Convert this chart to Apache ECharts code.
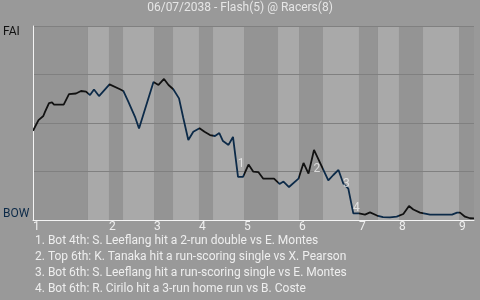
<!DOCTYPE html>
<html>
<head>
<meta charset="utf-8">
<script src="https://cdn.jsdelivr.net/npm/echarts@6/dist/echarts.min.js"></script>
<style>html,body{margin:0;padding:0;background:#999999;}#c{width:480px;height:300px;}</style>
</head>
<body>
<div id="c"></div>
<script>
// Game progress (0-100) and FAI win probability
const playX = [0, 1.25, 2.34, 2.72, 3.63, 4.31, 4.76, 6.96, 8.16, 9.75, 10.88, 12.02, 12.93, 13.83, 14.97, 17.35, 19.73, 20.48, 21.61, 23.13, 24.04, 27.32, 28.46, 29.71, 30.73, 31.81, 33.11, 34.08, 35.22, 36.35, 37.76, 38.89, 40.14, 41.27, 42.25, 43.08, 44.33, 45.35, 46.49, 47.62, 48.87, 49.96, 51.09, 52.22, 54.65, 55.90, 56.80, 58.05, 60.20, 61.34, 62.47, 63.72, 66.96, 68.10, 69.27, 70.36, 71.50, 72.63, 73.92, 75.28, 76.42, 78.0, 79.37, 80.95, 82.47, 83.97, 85.26, 86.24, 87.76, 90.02, 95.01, 96.15, 96.83, 97.96, 99.09, 100];
const faiWinProb = [0.46, 0.515, 0.536, 0.557, 0.603, 0.606, 0.595, 0.595, 0.649, 0.652, 0.665, 0.662, 0.644, 0.673, 0.639, 0.699, 0.674, 0.665, 0.610, 0.532, 0.472, 0.711, 0.696, 0.727, 0.696, 0.674, 0.627, 0.526, 0.412, 0.455, 0.473, 0.455, 0.438, 0.433, 0.448, 0.407, 0.387, 0.428, 0.222, 0.222, 0.286, 0.249, 0.247, 0.213, 0.213, 0.186, 0.198, 0.170, 0.213, 0.294, 0.239, 0.361, 0.204, 0.232, 0.258, 0.188, 0.162, 0.034, 0.034, 0.028, 0.039, 0.023, 0.015, 0.014, 0.017, 0.031, 0.072, 0.054, 0.038, 0.028, 0.028, 0.038, 0.038, 0.017, 0.009, 0.008];
// Half-inning boundaries (top, bottom, top, ...)
const halfInningBounds = [0, 12.47, 17.23, 20.41, 27.44, 31.75, 37.64, 40.82, 47.85, 55.56, 60.32, 65.76, 73.92, 78.23, 82.99, 88.44, 96.6, 100];
const inningStarts = [0, 17.23, 27.44, 37.64, 47.85, 60.32, 73.92, 82.99, 96.6];
const inningLabels = ['1', '2', '3', '4', '5', '6', '7', '8', '9'];
const yTicks = [0, 0.25, 0.5, 0.75, 1];
const eventAfterIndex = [38, 51, 55, 57];
const eventNotes = [
  '1. Bot 4th: S. Leeflang hit a 2-run double vs E. Montes',
  '2. Top 6th: K. Tanaka hit a run-scoring single vs X. Pearson',
  '3. Bot 6th: S. Leeflang hit a run-scoring single vs E. Montes',
  '4. Bot 6th: R. Cirilo hit a 3-run home run vs B. Coste'
];
const titleText = '06/07/2038 - Flash(5) @ Racers(8)';
const awayLabel = 'FAI', homeLabel = 'BOW';

const AWAY_COLOR = '#111111', HOME_COLOR = '#0c2a48';
const DARK_BAND = '#949494', LIGHT_BAND = '#a9a9a9';
const FONT = 'Roboto';

const lineData = playX.map((x, i) => [x, faiWinProb[i]]);
const pieces = [];
const bands = [];
for (let i = 0; i < halfInningBounds.length - 1; i++) {
  const p = { gte: halfInningBounds[i], color: i % 2 === 0 ? AWAY_COLOR : HOME_COLOR };
  if (i < halfInningBounds.length - 2) p.lt = halfInningBounds[i + 1]; else p.lte = halfInningBounds[i + 1];
  pieces.push(p);
  bands.push([{ xAxis: halfInningBounds[i], itemStyle: { color: i % 2 === 0 ? DARK_BAND : LIGHT_BAND } }, { xAxis: halfInningBounds[i + 1] }]);
}
const eventData = eventAfterIndex.map((k, i) => ({
  value: [(playX[k - 1] + playX[k]) / 2, (faiWinProb[k - 1] + faiWinProb[k]) / 2],
  label: { formatter: String(i + 1) }
}));

const chart = echarts.init(document.getElementById('c'), null, { renderer: 'canvas' });
chart.setOption({
  backgroundColor: '#999999',
  animation: false,
  title: {
    text: titleText, left: 'center', top: 2, padding: 0,
    textStyle: { fontFamily: FONT, fontSize: 12, fontWeight: 'normal', color: '#e6e6e6' }
  },
  grid: { left: 33, right: 6, top: 26, bottom: 80, containLabel: false },
  xAxis: {
    type: 'value', min: 0, max: 100, z: 4,
    axisLine: { show: true, lineStyle: { color: '#f4f4f4', width: 1 } },
    axisTick: { show: false },
    splitLine: { show: false },
    axisLabel: {
      customValues: inningStarts,
      align: 'left', margin: 1,
      fontFamily: FONT, fontSize: 12, color: '#eeeeee',
      formatter: function (v) {
        let best = 0;
        for (let i = 0; i < inningStarts.length; i++) if (Math.abs(inningStarts[i] - v) < Math.abs(inningStarts[best] - v)) best = i;
        return inningLabels[best];
      }
    }
  },
  yAxis: [{
    type: 'value', min: 0, max: 1, interval: 0.25, z: 3,
    axisLine: { show: true, lineStyle: { color: '#f4f4f4', width: 1 } },
    axisTick: { show: false },
    splitLine: { show: true, lineStyle: { color: '#808080', width: 1 } },
    axisLabel: {
      showMaxLabel: true, align: 'left', margin: 30, verticalAlign: 'top',
      fontFamily: FONT, fontSize: 12, color: AWAY_COLOR,
      formatter: v => (v === yTicks[yTicks.length - 1] ? awayLabel : '')
    }
  }, {
    type: 'value', min: 0, max: 1, interval: 0.25, position: 'left', z: 3,
    axisLine: { show: false }, axisTick: { show: false }, splitLine: { show: false },
    axisLabel: {
      showMinLabel: true, align: 'left', margin: 30, verticalAlign: 'bottom',
      fontFamily: FONT, fontSize: 12, color: HOME_COLOR,
      formatter: v => (v === yTicks[0] ? homeLabel : '')
    }
  }],
  visualMap: {
    type: 'piecewise', show: false, dimension: 0, seriesIndex: 1, pieces: pieces
  },
  series: [{
    type: 'line', data: [], z: 1, silent: true,
    markArea: { silent: true, data: bands }
  }, {
    type: 'line', data: lineData, z: 5, symbol: 'none', silent: true,
    lineStyle: { width: 1.8 }
  }, {
    type: 'scatter', data: eventData, z: 6, symbolSize: 1, silent: true,
    itemStyle: { color: 'rgba(0,0,0,0)' },
    label: {
      show: true, position: 'inside', offset: [5.5, 7],
      fontFamily: FONT, fontSize: 12, color: '#eeeeee'
    }
  }],
  graphic: [{
    type: 'text', left: 35, top: 233,
    style: {
      text: eventNotes.join('\n'), fill: '#eeeeee',
      font: '12px Roboto', lineHeight: 16
    }
  }]
});
</script>
</body>
</html>
